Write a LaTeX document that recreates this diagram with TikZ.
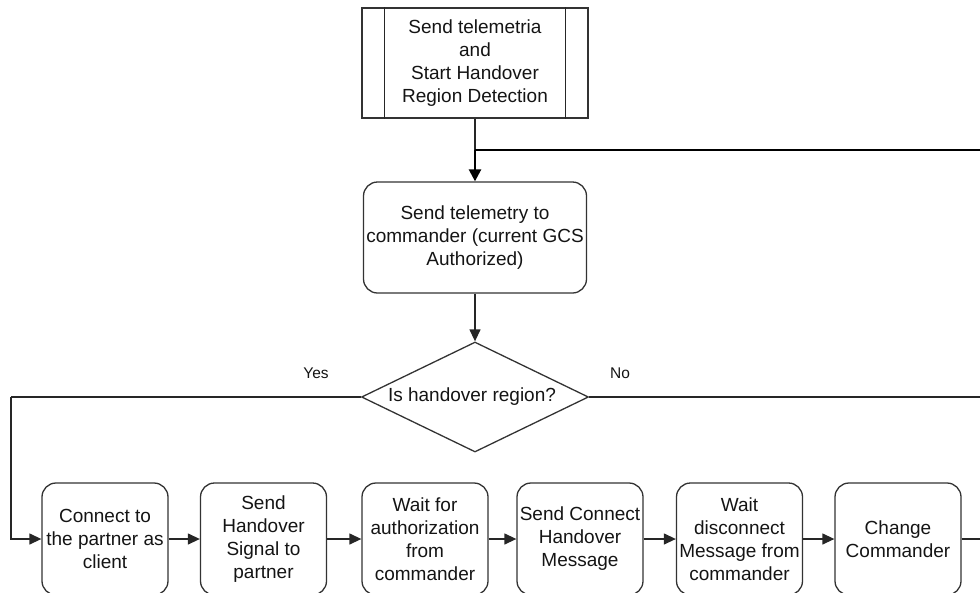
\documentclass[tikz,border=0pt]{standalone}
\usepackage{fontspec}
\setmainfont{Liberation Sans}
\usetikzlibrary{shapes.geometric,arrows.meta}
\begin{document}
\begin{tikzpicture}[x=1pt,y=-1pt,
  every node/.style={font=\fontsize{19}{23}\selectfont, text=black!92},
  box/.style={draw=black!80, line width=1.3pt, align=center, inner sep=0pt},
  stepbox/.style={box, rounded corners=14pt, minimum width=126pt, minimum height=112pt},
  decision/.style={box, diamond, aspect=2.06, minimum width=227pt, minimum height=110pt},
  link/.style={draw=black!85, line width=1.3pt, -{Triangle[length=12pt,width=11pt]}},
  plain/.style={draw=black!85, line width=1.3pt},
  loop/.style={draw=black, line width=2.5pt},
  label/.style={font=\fontsize{15.5}{18}\selectfont}]
\useasboundingbox (0,0) rectangle (980,592);

% predefined-process start block
\node[box, minimum width=226pt, minimum height=110pt] (start) at (475,63)
  {Send telemetria\\and\\Start Handover\\Region Detection};
\draw[plain] ([xshift=23pt]start.north west) -- ([xshift=23pt]start.south west);
\draw[plain] ([xshift=-23pt]start.north east) -- ([xshift=-23pt]start.south east);

\node[stepbox, minimum width=223pt, minimum height=111pt] (telem) at (475,237.5)
  {Send telemetry to\\commander (current GCS\\Authorized)};

\node[decision] (dec) at (475,397) {\kern-6pt Is handover region?};

% handover steps
\node[stepbox] (s1) at (105,539)   {Connect to\\the partner as\\client};
\node[stepbox] (s2) at (263.5,539) {Send\\Handover\\Signal to\\partner};
\node[stepbox] (s3) at (425,539)   {Wait for\\authorization\\from\\commander};
\node[stepbox] (s4) at (580,539)   {Send Connect\\Handover\\Message};
\node[stepbox] (s5) at (739.5,539) {Wait\\disconnect\\Message from\\commander};
\node[stepbox] (s6) at (898,539)   {Change\\Commander};

% free ends at the right border
\coordinate (loopin) at (980,150);
\coordinate (join) at (475,150);
\coordinate (noend) at (980,397);
\coordinate (s6end) at (980,539);
\coordinate (yescorner) at (11,397);

\draw[plain] (start.south) -- (join);
\draw[loop] (loopin) -- (join);
\draw[loop, -{Triangle[length=12pt,width=12pt]}] (join) -- (telem.north);
\draw[link] (telem.south) -- (dec.north);

\draw[plain] (dec.west) -- (yescorner);
\draw[link] (yescorner) |- (s1.west);
\draw[plain] (dec.east) -- (noend);
\node[label] (yes) at (316,373) {Yes};
\node[label] (no) at (620,373) {No};

\draw[link] (s1) -- (s2);
\draw[link] (s2) -- (s3);
\draw[link] (s3) -- (s4);
\draw[link] (s4) -- (s5);
\draw[link] (s5) -- (s6);
\draw[plain] (s6.east) -- (s6end);
\end{tikzpicture}
\end{document}
